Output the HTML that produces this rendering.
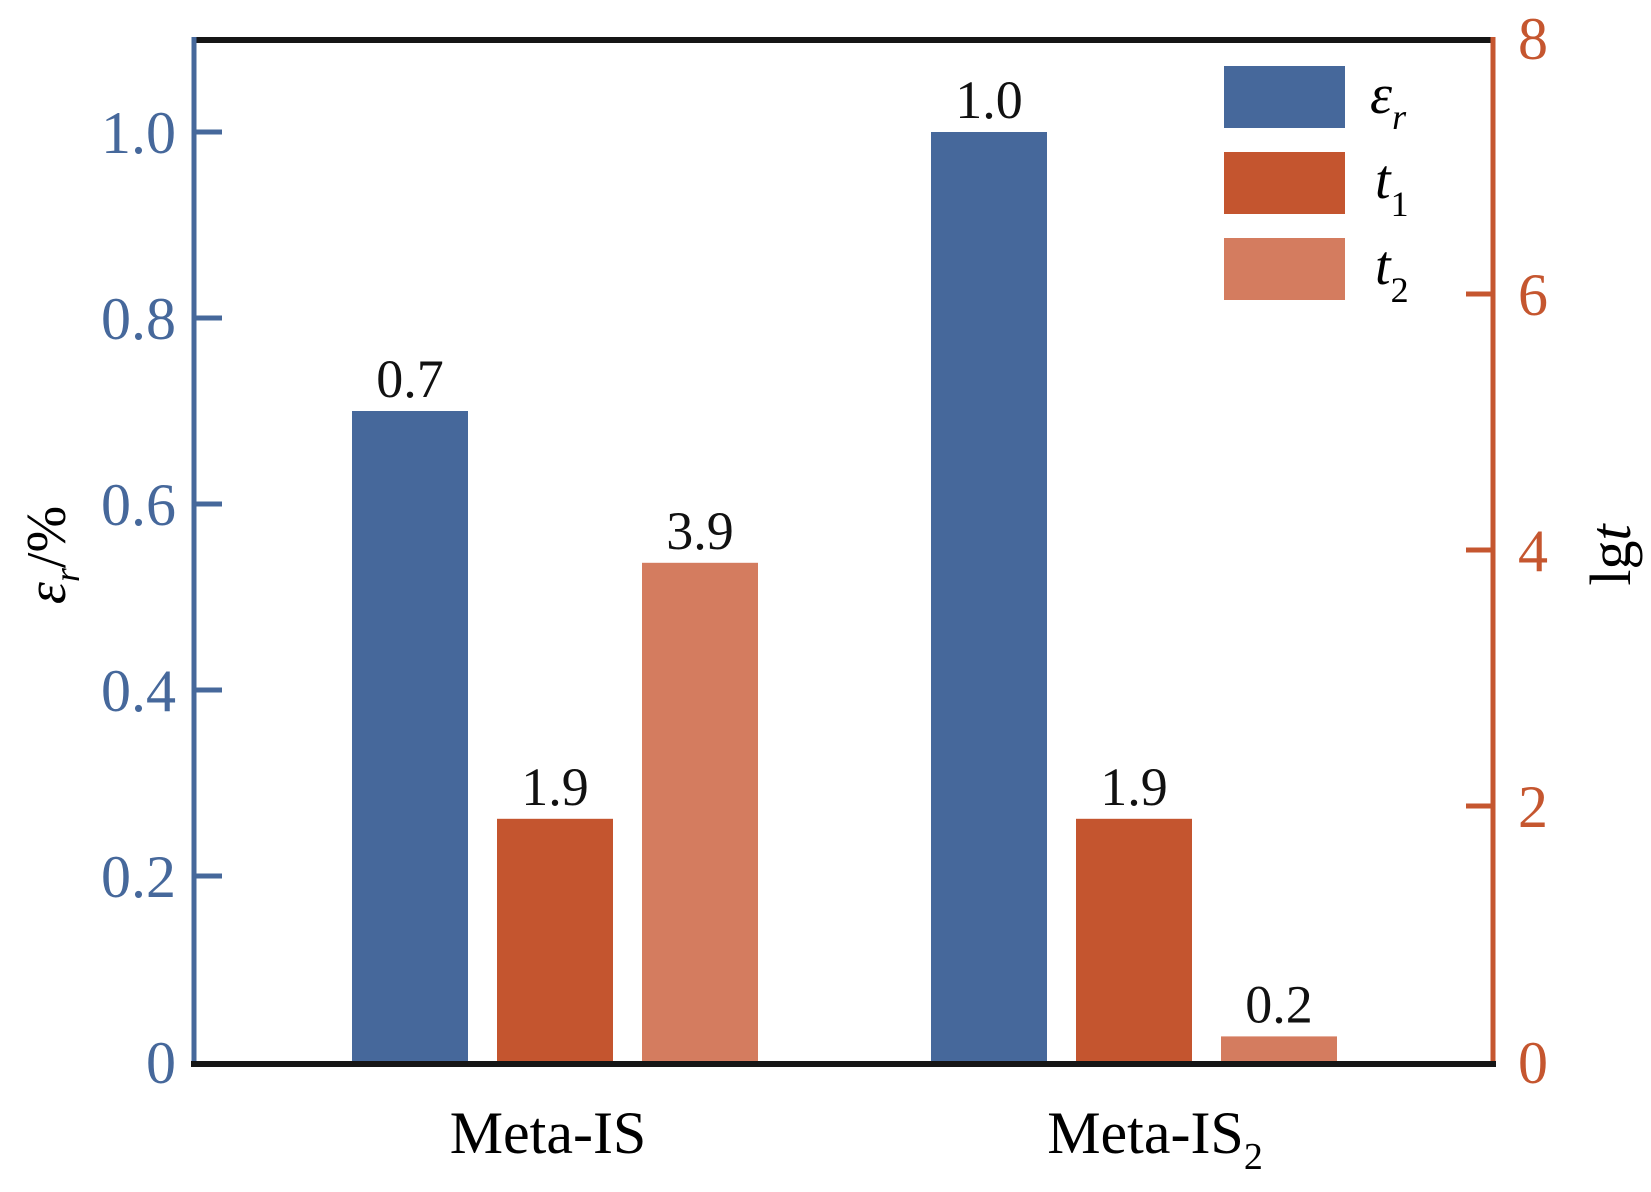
<!DOCTYPE html>
<html><head><meta charset="utf-8"><style>
body{margin:0;background:#fff}
svg text{font-family:"Liberation Serif",serif}
</style></head><body>
<svg id="chart" width="1651" height="1187" viewBox="0 0 1651 1187" xmlns="http://www.w3.org/2000/svg">
<g id="marks"></g>
<line x1="194" y1="40" x2="1494" y2="40" stroke="#161616" stroke-width="6"/>
<line x1="194" y1="37" x2="194" y2="1064" stroke="#46689b" stroke-width="5"/>
<line x1="1493" y1="37" x2="1493" y2="1064" stroke="#c5562f" stroke-width="5"/>
<line x1="191" y1="1064" x2="1496" y2="1064" stroke="#161616" stroke-width="6"/>
<g id="ticks"></g>
<text x="548" y="1153" font-size="60" text-anchor="middle">Meta-IS</text>
<text x="1155" y="1153" font-size="60" text-anchor="middle">Meta-IS<tspan font-size="38" dy="16">2</tspan></text>
<text transform="translate(65,555) rotate(-90)" font-size="56" text-anchor="middle"><tspan font-style="italic">ε</tspan><tspan font-style="italic" font-size="36" dy="14">r</tspan><tspan dy="-14">/%</tspan></text>
<text transform="translate(1630,555) rotate(-90)" font-size="58" text-anchor="middle">lg<tspan font-style="italic">t</tspan></text>
<g>
<rect x="1224" y="66" width="121" height="62" fill="#46689b"/>
<text x="1370" y="113" font-size="56" font-style="italic">ε<tspan font-size="36" dy="16">r</tspan></text>
<rect x="1224" y="152" width="121" height="62" fill="#c4552f"/>
<text x="1375" y="198" font-size="56" font-style="italic">t<tspan font-size="36" font-style="normal" dy="18">1</tspan></text>
<rect x="1224" y="238" width="121" height="62" fill="#d47c5f"/>
<text x="1375" y="284" font-size="56" font-style="italic">t<tspan font-size="36" font-style="normal" dy="18">2</tspan></text>
</g>
</svg>
<script>
const categories = ["Meta-IS", "Meta-IS2"];
const errValues = [0.7, 1.0];
const t1Values = [1.9, 1.9];
const t2Values = [3.9, 0.2];
const errLabels = ["0.7", "1.0"];
const t1Labels = ["1.9", "1.9"];
const t2Labels = ["3.9", "0.2"];
const leftTicks = [0, 0.2, 0.4, 0.6, 0.8, 1.0];
const leftTickLabels = ["0", "0.2", "0.4", "0.6", "0.8", "1.0"];
const rightTicks = [0, 2, 4, 6, 8];

const NS = "http://www.w3.org/2000/svg";
const y0 = 1062;
const yL = v => y0 - v * 930;
const yR = v => y0 - v * 128;
const groupX = i => 352 + i * 579;
const barW = 116, step = 145;
const marks = document.getElementById('marks');
const ticks = document.getElementById('ticks');
function mk(tag, attrs, parent) {
  const el = document.createElementNS(NS, tag);
  for (const k in attrs) el.setAttribute(k, attrs[k]);
  parent.appendChild(el);
  return el;
}
const series = [
  {vals: errValues, labs: errLabels, scale: yL, color: "#46689b", name: "er"},
  {vals: t1Values, labs: t1Labels, scale: yR, color: "#c4552f", name: "t1"},
  {vals: t2Values, labs: t2Labels, scale: yR, color: "#d47c5f", name: "t2"}
];
categories.forEach((c, i) => {
  series.forEach((s, j) => {
    const x = groupX(i) + j * step;
    const yt = s.scale(s.vals[i]);
    const r = mk('rect', {x: x, y: yt, width: barW, height: y0 - yt, fill: s.color}, marks);
    
    
    const t = mk('text', {x: x + barW / 2, y: yt - 14, 'font-size': 54, 'text-anchor': 'middle', fill: '#111'}, marks);
    t.textContent = s.labs[i];
    
    
  });
});
leftTicks.forEach((v, i) => {
  const y = yL(v);
  if (v > 0) {
    const l = mk('line', {x1: 194, x2: 222, y1: y, y2: y, stroke: '#46689b', 'stroke-width': 5}, ticks);
    
    
  }
  const t = mk('text', {x: 176, y: y + 21, 'font-size': 60, 'text-anchor': 'end', fill: '#46689b'}, ticks);
  t.textContent = leftTickLabels[i];
  
  
});
rightTicks.forEach(v => {
  const y = yR(v);
  if (v > 0 && v < 8) {
    const l = mk('line', {x1: 1466, x2: 1493, y1: y, y2: y, stroke: '#c5562f', 'stroke-width': 5}, ticks);
    
    
  }
  const t = mk('text', {x: 1518, y: y + 21, 'font-size': 60, fill: '#c5562f'}, ticks);
  t.textContent = String(v);
  
  
});
</script>
</body></html>
